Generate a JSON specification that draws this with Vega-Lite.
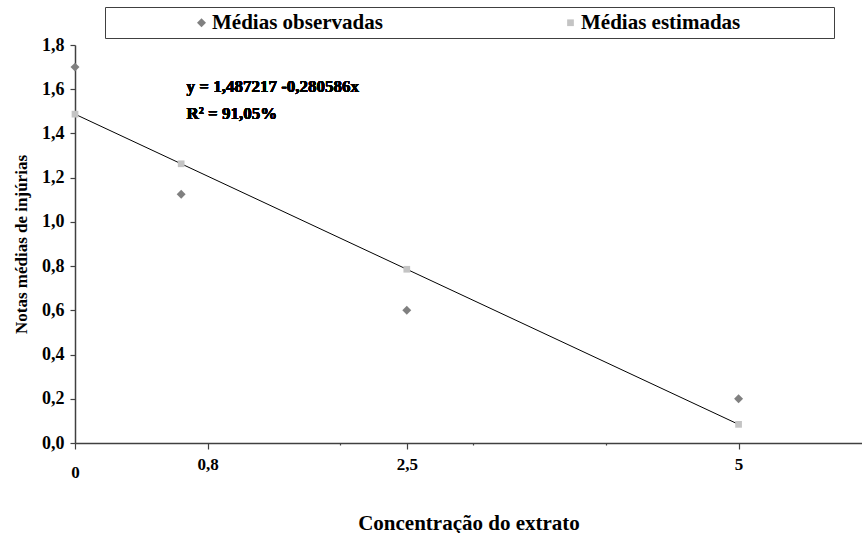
{
  "$schema": "https://vega.github.io/schema/vega-lite/v6.json",
  "autosize": "none",
  "width": 787,
  "height": 398,
  "padding": {"left": 75, "top": 45, "right": 0, "bottom": 90},
  "background": "white",
  "config": {
    "view": {"stroke": null},
    "font": "Liberation Serif",
    "axis": {
      "labelFont": "Liberation Serif",
      "labelFontWeight": "bold",
      "labelColor": "black",
      "titleFont": "Liberation Serif",
      "titleFontWeight": "bold",
      "titleColor": "black",
      "domainColor": "#404040",
      "domainWidth": 1.5,
      "tickColor": "#404040",
      "tickWidth": 1.2,
      "grid": false
    }
  },
  "data": {
    "values": [
      {"x": 0, "y": 1.7, "serie": "Médias observadas"},
      {"x": 0.8, "y": 1.125, "serie": "Médias observadas"},
      {"x": 2.5, "y": 0.6, "serie": "Médias observadas"},
      {"x": 5, "y": 0.2, "serie": "Médias observadas"},
      {"x": 0, "y": 1.487217, "serie": "Médias estimadas"},
      {"x": 0.8, "y": 1.262748, "serie": "Médias estimadas"},
      {"x": 2.5, "y": 0.785752, "serie": "Médias estimadas"},
      {"x": 5, "y": 0.084287, "serie": "Médias estimadas"}
    ]
  },
  "encoding": {
    "x": {
      "field": "x", "type": "quantitative",
      "scale": {"domain": [0, 5.93], "nice": false, "zero": false},
      "axis": {
        "title": "Concentração do extrato",
        "titleFontSize": 21,
        "titleY": 69,
        "titleBaseline": "top",
        "values": [0, 1, 2, 2.5, 3, 4, 5],
        "labelExpr": "datum.value == 0 ? '0' : datum.value == 1 ? '0,8' : datum.value == 2.5 ? '2,5' : datum.value == 5 ? '5' : ''",
        "labelFontSize": 17,
        "labelBaseline": "top",
        "labelPadding": {"condition": {"test": "datum.value == 0", "value": 15}, "value": 7},
        "tickSize": {"condition": {"test": "datum.value == 2 || datum.value == 3 || datum.value == 4", "value": 2}, "value": 6},
        "labelOverlap": false,
        "labelFlush": false
      }
    },
    "y": {
      "field": "y", "type": "quantitative",
      "scale": {"domain": [0, 1.8], "nice": false},
      "axis": {
        "title": "Notas médias de injúrias",
        "titleFontSize": 17,
        "titleX": -49,
        "titleBaseline": "alphabetic",
        "values": [0, 0.2, 0.4, 0.6, 0.8, 1.0, 1.2, 1.4, 1.6, 1.8],
        "labelExpr": "replace(format(datum.value, '.1f'), '.', ',')",
        "labelFontSize": 18,
        "labelPadding": 6,
        "tickSize": 5
      }
    }
  },
  "layer": [
    {
      "transform": [{"filter": "datum.serie == 'Médias estimadas'"}],
      "mark": {"type": "line", "color": "black", "strokeWidth": 1}
    },
    {
      "mark": {"type": "point", "filled": true, "opacity": 1},
      "encoding": {
        "shape": {"field": "serie", "type": "nominal", "scale": {"domain": ["Médias observadas", "Médias estimadas"], "range": ["diamond", "square"]}},
        "color": {"field": "serie", "type": "nominal", "scale": {"domain": ["Médias observadas", "Médias estimadas"], "range": ["#808080", "#c4c4c4"]},
          "legend": {
            "title": " ",
            "titleOrient": "right",
            "titlePadding": 89,
            "orient": "none",
            "legendX": 30,
            "legendY": -38,
            "direction": "horizontal",
            "strokeColor": "#404040",
            "fillColor": "white",
            "padding": 5,
            "symbolOffset": 81,
            "labelOffset": 0,
            "columnPadding": 96,
            "symbolSize": 50,
            "labelFont": "Liberation Serif",
            "labelFontWeight": "bold",
            "labelFontSize": 21,
            "labelColor": "black",
            "labelLimit": 500,
            "encode": {
              "legend": {"update": {"strokeWidth": {"value": 1.5}}}
            }
          }
        },
        "size": {"field": "serie", "type": "nominal", "scale": {"domain": ["Médias observadas", "Médias estimadas"], "range": [80, 45]}, "legend": null}
      }
    },
    {
      "mark": {"type": "text", "align": "left", "baseline": "middle", "font": "Liberation Serif", "fontWeight": "bold", "fontSize": 17, "color": "black"},
      "encoding": {
        "x": {"datum": 0.84},
        "y": {"datum": 1.61},
        "text": {"value": "y = 1,487217 -0,280586x"}
      }
    },
    {
      "mark": {"type": "text", "align": "left", "baseline": "middle", "font": "Liberation Serif", "fontWeight": "bold", "fontSize": 17, "color": "black"},
      "encoding": {
        "x": {"datum": 0.84},
        "y": {"datum": 1.49},
        "text": {"value": "R² = 91,05%"}
      }
    }
  ]
}
